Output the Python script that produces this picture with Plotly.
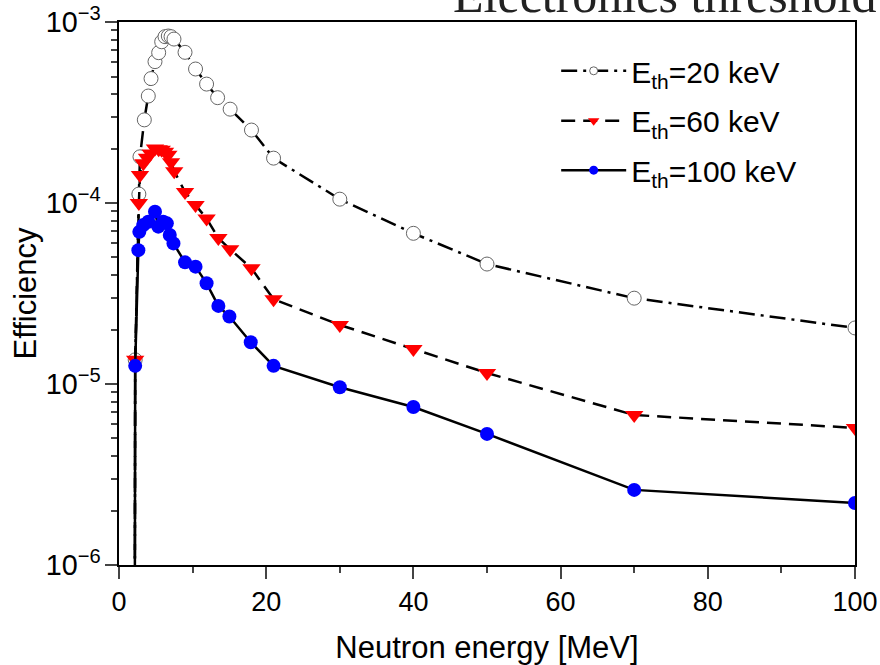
import plotly.graph_objects as go

# ---- data ----
x_20 = [2.05, 2.2, 2.7, 2.85, 3.44, 3.98, 4.35, 4.89, 5.39, 5.8, 6.25, 6.7, 7.07, 7.47,
        8.97, 10.4, 11.9, 13.4, 15.1, 18, 21, 30, 40, 50, 70, 100]
eff_20 = [1e-9, 1.36e-5, 1.12e-4, 1.8e-4, 2.88e-4, 3.9e-4, 4.87e-4, 6.04e-4, 6.77e-4, 7.78e-4,
          8.3e-4, 8.37e-4, 8.3e-4, 8.05e-4, 6.8e-4, 5.5e-4, 4.54e-4, 3.82e-4, 3.3e-4,
          2.53e-4, 1.77e-4, 1.05e-4, 6.8e-5, 4.6e-5, 2.98e-5, 2.04e-5]

x_60 = [2.05, 2.2, 2.7, 2.85, 3.3, 3.8, 4.3, 4.89, 5.39, 5.8, 6.25, 6.7, 7.07, 7.5,
        8.97, 10.4, 11.9, 13.5, 15.1, 18, 21, 30, 40, 50, 70, 100]
eff_60 = [1e-9, 1.36e-5, 1.0e-4, 1.43e-4, 1.66e-4, 1.78e-4, 1.88e-4, 2.0e-4, 1.98e-4, 1.97e-4,
          1.92e-4, 1.85e-4, 1.68e-4, 1.5e-4, 1.15e-4, 9.75e-5, 8.2e-5, 6.4e-5, 5.55e-5,
          4.36e-5, 2.94e-5, 2.12e-5, 1.56e-5, 1.15e-5, 6.74e-6, 5.72e-6]

x_100 = [2.05, 2.2, 2.63, 2.76, 3.3, 3.98, 4.89, 5.34, 6.0, 6.5, 6.9, 7.4,
         8.97, 10.4, 11.9, 13.5, 15.0, 17.9, 21, 30, 40, 50, 70, 100]
eff_100 = [1e-9, 1.26e-5, 5.49e-5, 6.93e-5, 7.55e-5, 7.88e-5, 8.96e-5, 7.4e-5, 7.88e-5, 7.72e-5,
           6.65e-5, 5.98e-5, 4.7e-5, 4.45e-5, 3.6e-5, 2.7e-5, 2.36e-5, 1.7e-5, 1.26e-5,
           9.6e-6, 7.46e-6, 5.3e-6, 2.6e-6, 2.2e-6]

series_names = ["E<sub>th</sub>=20 keV", "E<sub>th</sub>=60 keV", "E<sub>th</sub>=100 keV"]
x_ticks = [0, 20, 40, 60, 80, 100]
title_text = "Electronics threshold"
x_title = "Neutron energy [MeV]"
y_title = "Efficiency"

SANS = "Liberation Sans, Arial, sans-serif"
SERIF = "Liberation Serif, Times New Roman, serif"

styles = [
    dict(line=dict(color="black", width=2.5, dash="16px,6px,3px,6px"),
         marker=dict(symbol="circle", size=14, color="white", line=dict(color="#666666", width=1))),
    dict(line=dict(color="black", width=2.5, dash="14px,8px"),
         marker=dict(symbol="triangle-down", size=16, color="#ff0000", line=dict(width=0))),
    dict(line=dict(color="black", width=2.5),
         marker=dict(symbol="circle", size=14, color="#0000ff", line=dict(width=0))),
]
legend_marker_sizes = [8, 10, 9]
legend_ids = ["legend", "legend2", "legend3"]
legend_y = [0.958, 0.866, 0.775]

fig = go.Figure()
for xs, ys, st in zip([x_20, x_60, x_100], [eff_20, eff_60, eff_100], styles):
    fig.add_trace(go.Scatter(x=xs, y=ys, mode="lines+markers", showlegend=False,
                             line=st["line"], marker=st["marker"], cliponaxis=True))
for name, st, ms, lid in zip(series_names, styles, legend_marker_sizes, legend_ids):
    mk = dict(st["marker"])
    mk["size"] = ms
    fig.add_trace(go.Scatter(x=[None], y=[None], mode="lines+markers", name=name,
                             line=st["line"], marker=mk, legend=lid))

legend_common = dict(xanchor="left", yanchor="top", bgcolor="rgba(0,0,0,0)",
                     font=dict(size=30, family=SANS), itemwidth=65)
layout_legends = {}
for lid, ly in zip(legend_ids, legend_y):
    layout_legends[lid] = dict(legend_common, x=0.594, y=ly)

fig.update_layout(
    width=880, height=665,
    margin=dict(l=119, r=25, t=22, b=100, autoexpand=False),
    paper_bgcolor="white", plot_bgcolor="white",
    font=dict(family=SANS, color="black"),
    annotations=[dict(text=title_text, xref="paper", yref="paper", x=1.033, y=1.0,
                      xanchor="right", yanchor="bottom", showarrow=False, yshift=-3,
                      font=dict(family=SERIF, size=50, color="#222222"))],
    **layout_legends,
)
fig.update_xaxes(
    range=[0, 100], tickvals=x_ticks, ticks="outside", ticklen=12, tickwidth=1.5,
    showline=True, linecolor="black", linewidth=1.5, mirror=True, showgrid=False,
    zeroline=False, tickfont=dict(size=27), automargin=False,
    minor=dict(ticks="outside", ticklen=6, tickwidth=1.5, dtick=10, showgrid=False),
    title=dict(text=x_title, font=dict(size=31), standoff=22),
)
fig.update_yaxes(
    type="log", range=[-6.0001, -2.9999], dtick=1, exponentformat="power", ticks="outside",
    ticklen=12, tickwidth=1.5, showline=True, linecolor="black", linewidth=1.5,
    mirror=True, showgrid=False, zeroline=False, tickfont=dict(size=23), automargin=False,
    minor=dict(ticks="outside", ticklen=6, tickwidth=1.5, dtick="D1", showgrid=False),
    title=dict(text=y_title, font=dict(size=31), standoff=0),
)
fig.write_html("out.html")
